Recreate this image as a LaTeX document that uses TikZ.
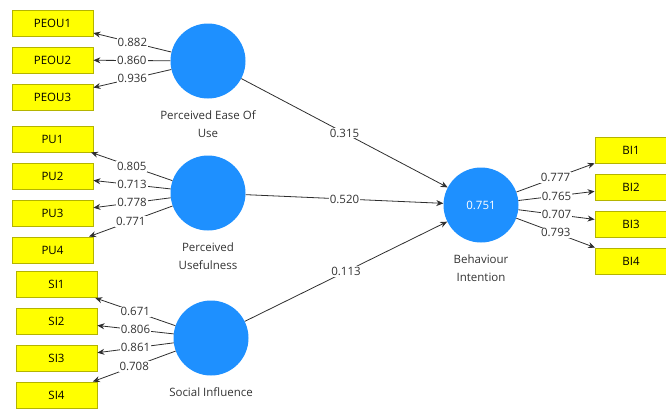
\documentclass[tikz,border=0pt]{standalone}
\usepackage{fontspec}
\setmainfont{Open Sans}
\usetikzlibrary{arrows.meta, positioning}
\definecolor{lvBlue}{HTML}{1E90FF}
\definecolor{mvFill}{HTML}{FFFF00}
\definecolor{mvBdr}{HTML}{B4B400}
\definecolor{lnC}{HTML}{2E2E2E}
\newcommand{\plsfont}{\fontsize{11.5}{18}\selectfont}
\tikzset{
  % latent variables (blue circles)
  LV/.style={circle, fill=lvBlue, draw=none, minimum size=75pt, inner sep=0pt,
    font=\plsfont, text=white},
  % indicators (yellow boxes)
  MV/.style={draw=mvBdr, line width=0.8pt, fill=mvFill, minimum width=81pt,
    minimum height=26pt, inner sep=0pt, font=\plsfont},
  MVr/.style={MV, minimum width=72pt},
  lvlab/.style={font=\plsfont, align=center, inner sep=0pt, text=black!80},
  A/.style={-{Stealth[length=7pt,width=6pt]}, lnC, line width=0.8pt},
  W/.style={midway, fill=white, inner sep=1pt, font=\plsfont, text=black!80},
}

\begin{document}
\begin{tikzpicture}[x=1pt, y=-1pt]
\useasboundingbox (0,0) rectangle (666,408);

% ── latent variables ────────────────────────────────────────────────
\node[LV] (peou) at (208,61) {};
\node[LV] (pu)   at (208,193) {};
\node[LV] (si)   at (211,338) {};
\node[LV] (bi)   at (481,205) {0.751};

\node[lvlab, below=12pt of peou] (peouL) {Perceived Ease Of\\Use};
\node[lvlab, below=12pt of pu]   (puL)   {Perceived\\Usefulness};
\node[lvlab, below=12pt of si]   (siL)   {Social Influence};
\node[lvlab, below=12pt of bi]   (biL)   {Behaviour\\Intention};

% ── indicators ──────────────────────────────────────────────────────
\foreach \i/\y in {1/23, 2/60, 3/97}
  \node[MV] (peou\i) at (52.5,\y) {PEOU\i};
\foreach \i/\y in {1/139, 2/176, 3/213, 4/250}
  \node[MV] (pu\i) at (52.5,\y) {PU\i};
\foreach \i/\y in {1/284.5, 2/321, 3/358, 4/395}
  \node[MV] (si\i) at (56.5,\y) {SI\i};
\foreach \i/\y in {1/150, 2/187, 3/224, 4/261}
  \node[MVr] (bi\i) at (631,\y) {BI\i};

% ── outer loadings ──────────────────────────────────────────────────
\foreach \i/\v in {1/0.882, 2/0.860, 3/0.936}
  \draw[A] (peou) -- node[W] {\v} (peou\i);
\foreach \i/\v in {1/0.805, 2/0.713, 3/0.778, 4/0.771}
  \draw[A] (pu) -- node[W] {\v} (pu\i);
\foreach \i/\v in {1/0.671, 2/0.806, 3/0.861, 4/0.708}
  \draw[A] (si) -- node[W] {\v} (si\i);
\foreach \i/\v in {1/0.777, 2/0.765, 3/0.707, 4/0.793}
  \draw[A] (bi) -- node[W] {\v} (bi\i);

% ── path coefficients ───────────────────────────────────────────────
\draw[A] (peou) -- node[W] {0.315} (bi);
\draw[A] (pu)   -- node[W] {0.520} (bi);
\draw[A] (si)   -- node[W] {0.113} (bi);

\end{tikzpicture}
\end{document}
